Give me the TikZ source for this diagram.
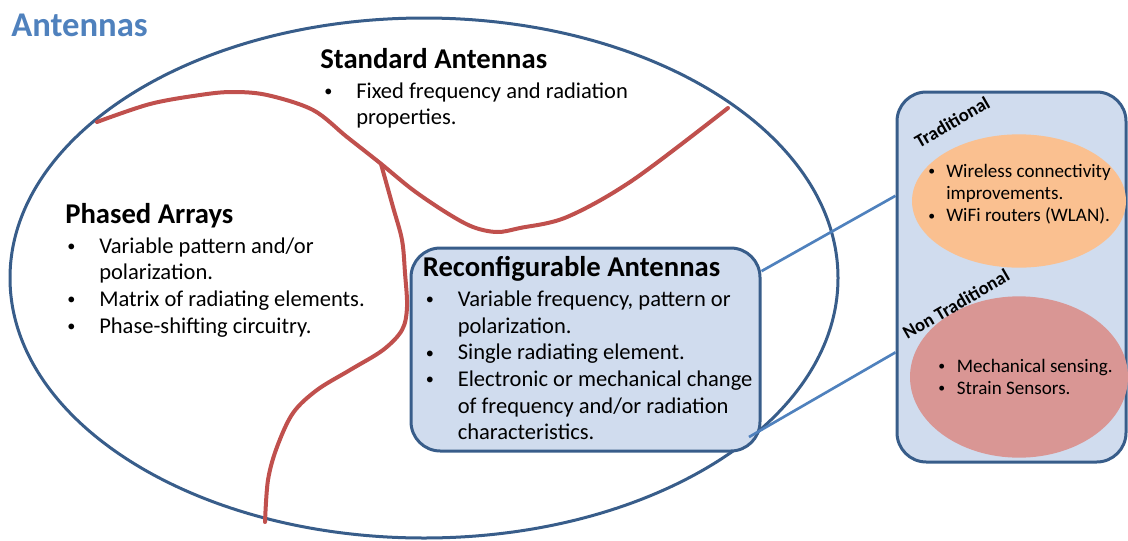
\documentclass[tikz,border=0pt]{standalone}
\usepackage{fontspec}
\setmainfont{Carlito}
\usepackage{tikz}
\usetikzlibrary{positioning, shapes.geometric}
\usepackage{xcolor}
\definecolor{titleblue}{HTML}{4F81BD}
\definecolor{rim}{HTML}{385D8A}
\definecolor{panel}{HTML}{D0DCEE}
\definecolor{split}{HTML}{C0504D}
\definecolor{warm}{HTML}{FAC090}
\definecolor{rose}{HTML}{D99694}
\definecolor{link}{HTML}{4F81BD}

\newcommand{\bul}[1][24pt]{\makebox[#1][l]{\raisebox{0.08em}{\scalebox{0.72}{\textbullet}}}}
\newcommand{\cont}[1][24pt]{\hspace*{#1}}
\newcommand{\blist}[1]{\begin{tabular}[t]{@{}l@{}}#1\end{tabular}}

\tikzset{
  head/.style={font=\fontsize{21.5}{25}\selectfont\bfseries, inner sep=0pt, anchor=base west},
  body/.style={font=\fontsize{16.9}{20}\selectfont, inner sep=0pt, anchor=base west},
  small/.style={font=\fontsize{14.3}{16.8}\selectfont, inner sep=0pt, anchor=base west},
  tag/.style={font=\fontsize{14}{16}\selectfont\bfseries, inner sep=0pt, rotate=30},
  boundary/.style={draw=split, line width=3pt, line cap=round},
  linkline/.style={draw=link, line width=2pt},
  roundbox/.style={draw=rim, fill=panel, line width=2.25pt, rounded corners=22pt, inner sep=0pt},
}

\begin{document}
\begin{tikzpicture}[x=0.75pt, y=-0.75pt]
\useasboundingbox (0,0) rectangle (1128,540);

\node[font=\fontsize{26}{30}\selectfont\bfseries, text=titleblue, inner sep=0pt, anchor=base west] (ttl) at (11,36) {Antennas};

\node[ellipse, draw=rim, line width=2.25pt, minimum width=621pt, minimum height=390pt, inner sep=0pt] (ant) at (424,278) {};

\draw[boundary] plot[smooth, tension=0.55] coordinates {(97,122) (150,104) (200,95) (232,92) (267,95) (313,110) (347,137) (380,163) (413,190) (447,213) (473,227) (497,232) (520,228) (567,217) (633,180) (728,108)};
\draw[boundary] plot[smooth, tension=0.55] coordinates {(381,164) (393,207) (402,240) (405,273) (407,307) (402,330) (383,350) (350,370) (317,390) (293,413) (277,447) (268,480) (265,522)};

\node[head] (stdhd) at (320,68) {Standard Antennas};
\node[body, below right=22.5pt and 3pt of stdhd.base west, anchor=base west] (stdtx) {\blist{\bul Fixed frequency and radiation\\ \cont properties.}};

\node[head] (phhd) at (65,223) {Phased Arrays};
\node[body, below right=22.5pt and 1.5pt of phhd.base west, anchor=base west] (phtx) {\blist{\bul Variable pattern and/or\\ \cont polarization.\\ \bul Matrix of radiating elements.\\ \bul Phase-shifting circuitry.}};

\node[roundbox, minimum width=261.75pt, minimum height=152.25pt] (rcf) at (585.5,349.5) {};
\node[head, below right=22.5pt and 9.75pt of rcf.north west, anchor=base west] (rcfhd) {Reconfigurable Antennas};
\node[body, below right=22.5pt and 2.25pt of rcfhd.base west, anchor=base west] (rcftx) {\blist{\bul Variable frequency, pattern or\\ \cont polarization.\\ \bul Single radiating element.\\ \bul Electronic or mechanical change\\ \cont of frequency and/or radiation\\ \cont characteristics.}};

\node[roundbox, minimum width=171.75pt, minimum height=277.5pt] (app) at (1011.5,277) {};
\node[ellipse, fill=warm, minimum width=160.5pt, minimum height=100pt, inner sep=0pt] (trad) at (1019,201) {};
\node[ellipse, fill=rose, minimum width=163.5pt, minimum height=121pt, inner sep=0pt] (nontrad) at (1019,377) {};
\node[tag] (tradlbl) at (952,122) {Traditional};
\node[tag] (nontradlbl) at (956,304) {Non Traditional};
\node[small] (tradtx) at (928,177) {\blist{\bul[13.5pt]Wireless connectivity\\ \cont[13.5pt]improvements.\\ \bul[13.5pt]WiFi routers (WLAN).}};
\node[small] (nontradtx) at (938,372) {\blist{\bul[14pt]Mechanical sensing.\\ \bul[14pt]Strain Sensors.}};

\coordinate (rcfcorner) at (749,437);
\draw[linkline] (rcf.24) -- (app.145);
\draw[linkline] (rcfcorner) -- (app.213);
\end{tikzpicture}
\end{document}
